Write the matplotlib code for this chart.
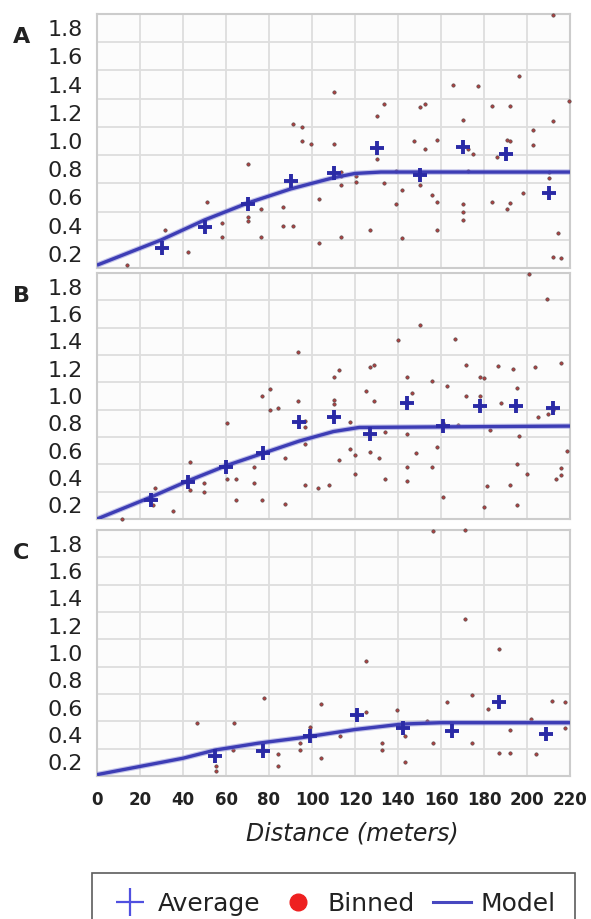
import matplotlib
matplotlib.use("Agg")
import matplotlib.pyplot as plt
from matplotlib.lines import Line2D


# ------------------------------------------------------------------------------
# Panel A
a_avg_x = [30, 50, 70, 90, 110, 130, 150, 170, 190, 210]
a_avg_y = [0.24, 0.39, 0.55, 0.72, 0.77, 0.95, 0.76, 0.96, 0.91, 0.63]
a_model_x = [0, 30, 50, 70, 90, 110, 120, 132, 220]
a_model_y = [0.12, 0.30, 0.44, 0.56, 0.66, 0.74, 0.77, 0.78, 0.78]
a_bin_x = [13.8, 31.6, 42.5, 51, 58, 58, 70.4, 70.4, 70.4, 76.1, 76.1, 86.4,
           86.4, 91, 91, 95.2, 95.2, 99.4, 103.4, 103.4, 110, 110, 113.5,
           113.5, 113.5, 113.5, 120.5, 120.5, 127, 130, 130, 133.5, 133.5,
           139, 139, 142, 142, 147.4, 150.2, 152.6, 150.2, 152.6, 155.7, 158,
           158, 158, 165.7, 170, 170, 170, 170, 172.7, 175, 172.7, 177.4,
           183.6, 183.6, 186, 190.5, 192, 190.5, 192, 192, 196.4, 198.3,
           202.6, 202.6, 210.4, 210.4, 212.2, 212.2, 214.3, 212.2, 216, 219.7]
a_bin_y = [0.12, 0.37, 0.21, 0.57, 0.42, 0.32, 0.84, 0.46, 0.43, 0.52, 0.32,
           0.53, 0.40, 0.40, 1.12, 1.10, 1.00, 0.98, 0.59, 0.28, 1.35, 0.98,
           0.78, 0.75, 0.69, 0.32, 0.75, 0.71, 0.37, 1.18, 0.87, 1.26, 0.70,
           0.79, 0.55, 0.65, 0.31, 1.00, 1.24, 1.26, 0.69, 0.94, 0.62, 1.01,
           0.57, 0.37, 1.40, 1.15, 0.55, 0.50, 0.44, 0.94, 0.91, 0.79, 1.39,
           1.25, 0.57, 0.89, 1.01, 1.00, 0.52, 1.25, 0.56, 1.46, 0.63, 1.08,
           0.97, 0.78, 0.74, 1.89, 1.14, 0.35, 0.18, 0.17, 1.28]

# Panel B
b_avg_x = [25, 42.5, 60, 77, 94, 110, 127, 144, 161, 178, 195, 212]
b_avg_y = [0.24, 0.37, 0.48, 0.58, 0.81, 0.85, 0.72, 0.95, 0.78, 0.93, 0.93, 0.91]
b_model_x = [0, 25, 42.5, 60, 77, 94, 110, 122, 220]
b_model_y = [0.10, 0.26, 0.38, 0.49, 0.58, 0.67, 0.74, 0.77, 0.78]
b_bin_x = [11.5, 26.2, 27, 35.5, 43.2, 43.2, 49.8, 49.8, 60.3, 60.3, 64.5,
           64.5, 73, 73, 76.6, 80.5, 76.6, 80.5, 84.3, 87.4, 87.4, 93.6, 93.6,
           96.7, 96.7, 96.7, 96.7, 103, 108, 110.2, 112.7, 110.2, 110.2, 112.7,
           117.7, 117.7, 120, 120, 125, 127, 129, 127, 129, 131, 133.9, 133.9,
           139.8, 144, 144, 144, 144, 146.4, 148.2, 150.2, 155.7, 155.7, 158,
           161, 161, 162.6, 166.5, 168, 171.6, 171.6, 178, 180, 178, 180,
           181.5, 183, 186.4, 188, 192, 193.6, 195.2, 195.2, 195.2, 196.4,
           199.8, 201, 203.7, 205, 209.6, 212.2, 209.4, 213.3, 216, 216, 216,
           218.7]
b_bin_y = [0.10, 0.20, 0.33, 0.16, 0.52, 0.31, 0.36, 0.30, 0.80, 0.39, 0.39,
           0.24, 0.48, 0.36, 1.00, 1.05, 0.24, 0.90, 0.91, 0.55, 0.21, 1.32,
           0.96, 0.82, 0.77, 0.65, 0.35, 0.33, 0.35, 1.14, 1.19, 0.97, 0.94,
           0.53, 0.81, 0.61, 0.57, 0.43, 1.04, 1.21, 1.23, 0.59, 0.96, 0.55,
           0.74, 0.39, 1.41, 1.14, 0.72, 0.48, 0.38, 1.02, 0.58, 1.52, 1.11,
           0.48, 0.63, 0.80, 0.26, 1.07, 1.42, 0.79, 1.23, 1.00, 1.14, 1.13,
           1.00, 0.19, 0.34, 0.75, 1.22, 0.95, 0.35, 1.20, 1.06, 0.50, 0.20,
           0.71, 0.43, 1.89, 1.21, 0.85, 0.87, 0.90, 1.71, 0.39, 0.42, 1.24,
           0.47, 0.60]

# Panel C
c_avg_x = [55, 77, 99, 121, 142.5, 165, 187, 209]
c_avg_y = [0.25, 0.28, 0.39, 0.55, 0.45, 0.43, 0.64, 0.41]
c_model_x = [0, 20, 40, 55, 75, 95, 120, 142, 160, 220]
c_model_y = [0.11, 0.17, 0.23, 0.29, 0.34, 0.38, 0.44, 0.48, 0.49, 0.49]
c_bin_x = [46.4, 55.3, 55.3, 63.8, 63.4, 77.8, 84, 84, 94.4, 94.4, 99, 104.2,
           104.2, 113, 125.1, 125.1, 132.4, 132.4, 139.7, 143.3, 143.3, 153.3,
           156.4, 156.4, 162.6, 171, 171, 174.2, 174.2, 182, 187.2, 187.2, 192,
           192, 201.9, 204.2, 211.5, 217.7, 217.7]
c_bin_y = [0.49, 0.17, 0.14, 0.49, 0.29, 0.67, 0.26, 0.17, 0.34, 0.29, 0.46,
           0.63, 0.23, 0.39, 0.94, 0.57, 0.34, 0.29, 0.58, 0.39, 0.20, 0.50,
           1.89, 0.34, 0.64, 1.90, 1.25, 0.69, 0.34, 0.59, 1.03, 0.27, 0.27,
           0.44, 0.52, 0.26, 0.65, 0.64, 0.45]

panel_labels = ["A", "B", "C"]
x_ticks = list(range(0, 221, 20))
y_ticks = [0.2, 0.4, 0.6, 0.8, 1.0, 1.2, 1.4, 1.6, 1.8]
y_grid = [0.3, 0.5, 0.7, 0.9, 1.1, 1.3, 1.5, 1.7]
# ------------------------------------------------------------------------------

W, H = 591, 919
model_color = "#3d3db5"
avg_color = "#2a2aa6"
grid_color = "#dedede"
text_color = "#222222"

panels = [
    (a_avg_x, a_avg_y, a_model_x, a_model_y, a_bin_x, a_bin_y),
    (b_avg_x, b_avg_y, b_model_x, b_model_y, b_bin_x, b_bin_y),
    (c_avg_x, c_avg_y, c_model_x, c_model_y, c_bin_x, c_bin_y),
]
# top / bottom of each panel in pixels
panel_px = [(14, 268), (273, 519), (530, 776)]

fig = plt.figure(figsize=(W / 100, H / 100), dpi=100)

for i, (data, (top, bottom)) in enumerate(zip(panels, panel_px)):
    avg_x, avg_y, mod_x, mod_y, bin_x, bin_y = data
    ax = fig.add_axes([97 / W, 1 - bottom / H, 473 / W, (bottom - top) / H])
    ax.set_facecolor("#fcfcfc")

    ax.plot(bin_x, bin_y, "o", ms=2.4, mfc="#b04040", mec="#5a4a4a",
            mew=0.5, clip_on=False, zorder=3)
    ax.plot(mod_x, mod_y, "-", color="#8888d8", lw=4.0, alpha=0.5, zorder=4)
    ax.plot(mod_x, mod_y, "-", color=model_color, lw=2.4, zorder=4,
            solid_capstyle="butt")
    ax.plot(avg_x, avg_y, "+", ms=10, mew=2.8, color=avg_color, zorder=5)

    ax.set_xlim(0, 220)
    ax.set_ylim(0.1, 1.9)
    ax.set_xticks(x_ticks)
    ax.set_yticks(y_ticks)
    ax.set_yticks(y_grid, minor=True)
    ax.set_yticklabels(["%.1f" % v for v in y_ticks], fontsize=16,
                       color=text_color)
    ax.tick_params(which="both", length=0)
    ax.tick_params(axis="y", pad=10)
    ax.xaxis.grid(True, which="major", color=grid_color, lw=1.3)
    ax.yaxis.grid(True, which="minor", color=grid_color, lw=1.3)
    ax.set_axisbelow(True)
    for s in ax.spines.values():
        s.set_color("#cccccc")
        s.set_linewidth(1.5)

    if i < 2:
        ax.set_xticklabels([])
    else:
        ax.set_xticklabels([str(v) for v in x_ticks], fontsize=12,
                           fontweight="bold", color=text_color)
        ax.tick_params(axis="x", pad=11)

    fig.text(13 / W, 1 - (top + 23) / H, panel_labels[i], fontsize=16,
             fontweight="bold", color=text_color, va="center", ha="left")

fig.text(352 / W, 1 - 833 / H, "Distance (meters)", fontsize=17,
         fontstyle="italic", color=text_color, ha="center", va="center")

handles = [
    Line2D([], [], ls="none", marker="+", ms=20, mew=1.6, color="#5050e0"),
    Line2D([], [], ls="none", marker="o", ms=12, color="#ee2020"),
    Line2D([], [], color="#4848c0", lw=2.2),
]
leg = fig.legend(handles, ["Average", "Binned", "Model"], loc="upper left",
                 bbox_to_anchor=(92 / W, 1 - 873 / H), ncol=3, fontsize=18,
                 frameon=True, fancybox=False, edgecolor="#333333",
                 handlelength=1.5, handletextpad=0.4, columnspacing=0.75,
                 borderpad=0.75, borderaxespad=0)
leg.get_frame().set_linewidth(1.2)
for t in leg.get_texts():
    t.set_color(text_color)

fig.savefig("out.png", dpi=100)
